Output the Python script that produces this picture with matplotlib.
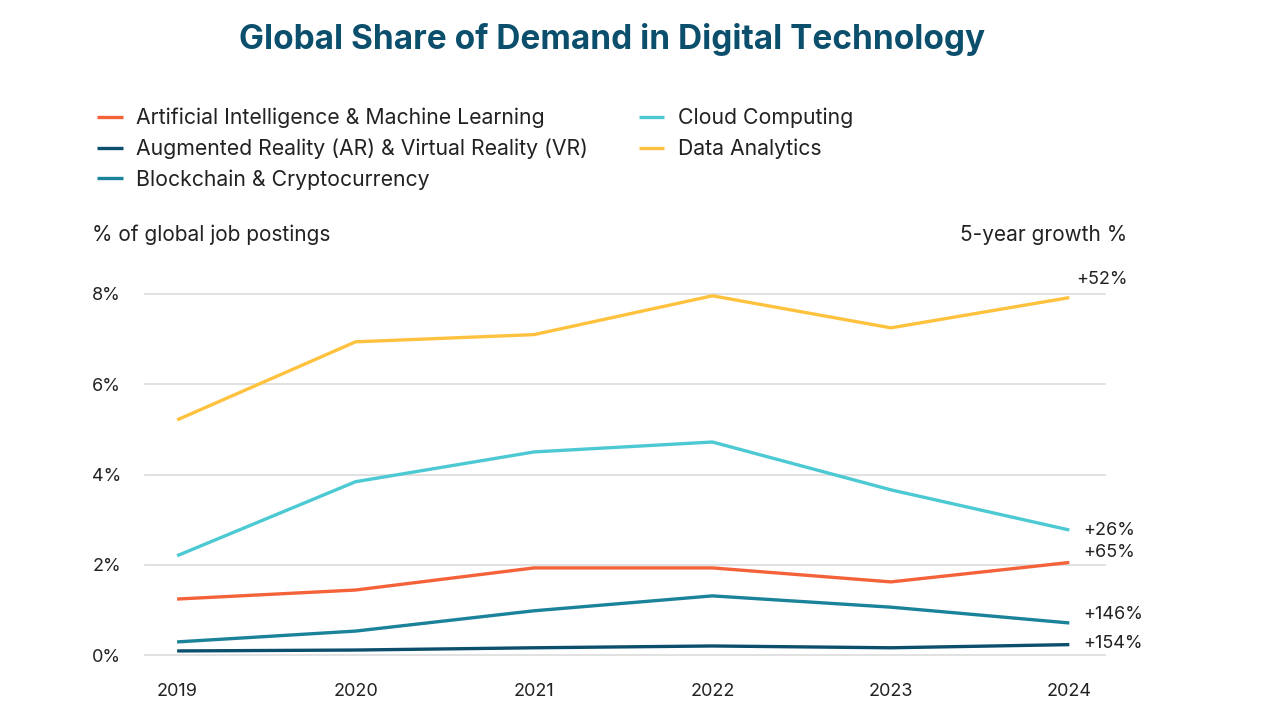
import matplotlib.pyplot as plt

plt.rcParams['font.family'] = ['Inter', 'DejaVu Sans']

# --- Data ---
years = [2019, 2020, 2021, 2022, 2023, 2024]
series_names = [
    'Artificial Intelligence & Machine Learning',
    'Augmented Reality (AR) & Virtual Reality (VR)',
    'Blockchain & Cryptocurrency',
    'Cloud Computing',
    'Data Analytics',
]
ai_ml = [1.24, 1.44, 1.93, 1.93, 1.62, 2.05]
ar_vr = [0.09, 0.11, 0.16, 0.20, 0.16, 0.23]
blockchain = [0.29, 0.53, 0.98, 1.31, 1.06, 0.71]
cloud = [2.20, 3.84, 4.50, 4.72, 3.66, 2.77]
data_analytics = [5.21, 6.94, 7.10, 7.96, 7.25, 7.92]
growth_labels = ['+65%', '+154%', '+146%', '+26%', '+52%']
y_ticks = [0, 2, 4, 6, 8]

# --- Styling ---
colors = ['#F4623A', '#0B4F6C', '#1A8299', '#4CC9D2', '#FFC23E']
label_offsets = [(10, 7), (10, 1), (10, 6), (10, 0), (5, 13)]  # points
text_color = '#222222'
title_color = '#0B4F6C'

fig = plt.figure(figsize=(12.8, 7.2), dpi=100)
ax = fig.add_axes([145 / 1280, 65 / 720, 960 / 1280, 361 / 720])

all_series = [ai_ml, ar_vr, blockchain, cloud, data_analytics]
for name, vals, col, lab, off in zip(series_names, all_series, colors, growth_labels, label_offsets):
    ax.plot(years, vals, color=col, linewidth=2.4, label=name, solid_capstyle='butt', zorder=3)
    ax.annotate(lab, xy=(years[-1], vals[-1]), xytext=off, textcoords='offset points',
                ha='left', va='center', fontsize=13, color=text_color)

ax.set_xlim(2018.82, 2024.2)
ax.set_ylim(0, 8)
ax.set_xticks(years)
ax.set_xticklabels([str(y) for y in years])
ax.set_yticks(y_ticks)
ax.set_yticklabels([f'{v}%' for v in y_ticks])
ax.grid(axis='y', color='#dcdcdc', linewidth=1.2)
ax.set_axisbelow(True)
for gl in ax.get_ygridlines():
    gl.set_clip_on(False)
for s in ax.spines.values():
    s.set_visible(False)
ax.tick_params(axis='both', length=0, labelsize=13, colors=text_color)
ax.tick_params(axis='x', pad=20)
ax.tick_params(axis='y', pad=38)
for t in ax.get_yticklabels():
    t.set_horizontalalignment('left')

fig.text(612 / 1280, 1 - 40 / 720, 'Global Share of Demand in Digital Technology',
         ha='center', va='center', fontsize=24, fontweight='bold', color=title_color)
fig.text(92 / 1280, 1 - 235 / 720, '% of global job postings', ha='left', va='center',
         fontsize=15, color=text_color)
fig.text(1127 / 1280, 1 - 235 / 720, '5-year growth %', ha='right', va='center',
         fontsize=15, color=text_color)

leg = fig.legend(loc='upper left', bbox_to_anchor=(97 / 1280, 1 - 108 / 720), ncol=2,
                 frameon=False, fontsize=15.3, handlelength=1.2, handletextpad=0.65,
                 columnspacing=2.38, labelspacing=0.48, borderaxespad=0, borderpad=0)
for t in leg.get_texts():
    t.set_color(text_color)

fig.savefig('out.png', dpi=100, facecolor='white')
